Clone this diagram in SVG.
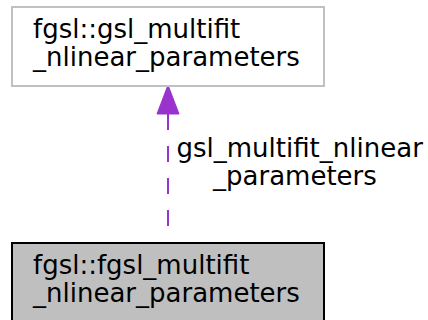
<svg xmlns="http://www.w3.org/2000/svg" width="428" height="320" viewBox="0 0 428 320">
<style>
  text { font-family: "DejaVu Sans", sans-serif; font-size: 26px; fill: #000000; }
  .box { stroke-width: 2; }
</style>
<rect width="428" height="320" fill="#ffffff"/>
<g id="connectors">
  <line x1="168" y1="114" x2="168" y2="243" stroke="#9a32cd" stroke-width="2" stroke-dasharray="16,16"/>
  <polygon points="168,85 157,114 179,114" fill="#9a32cd" stroke="#9a32cd" stroke-width="1"/>
  <text x="176.5" y="157">gsl_multifit_nlinear</text>
  <text x="213" y="185">_parameters</text>
</g>
<g id="node_base">
  <rect class="box" x="12" y="7" width="312" height="79" fill="#ffffff" stroke="#c0c0c0"/>
  <text x="33" y="38">fgsl::gsl_multifit</text>
  <text x="33" y="65.5">_nlinear_parameters</text>
</g>
<g id="node_derived">
  <rect class="box" x="12" y="243" width="312" height="90" fill="#bfbfbf" stroke="#000000"/>
  <text x="33" y="274">fgsl::fgsl_multifit</text>
  <text x="33" y="301.5">_nlinear_parameters</text>
</g>
</svg>
